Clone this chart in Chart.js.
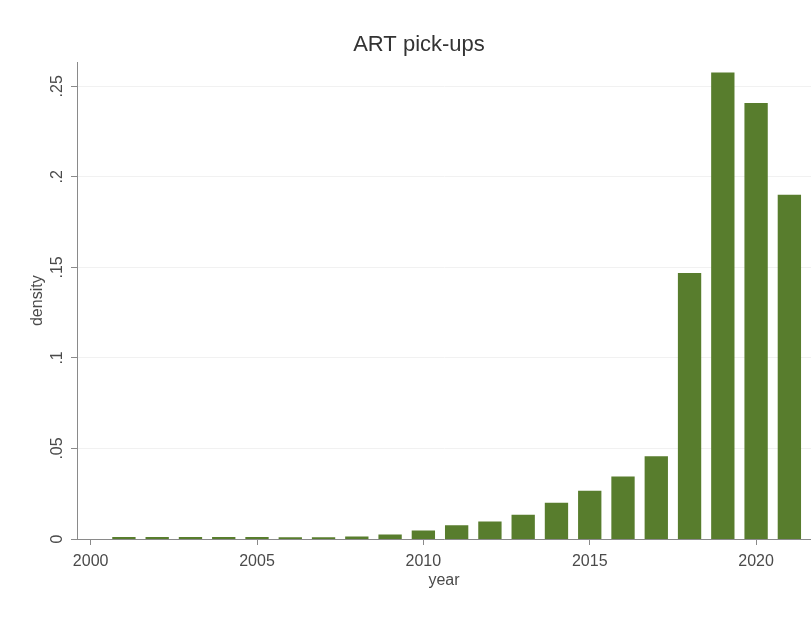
<!DOCTYPE html>
<html>
<head>
<meta charset="utf-8">
<title>ART pick-ups</title>
<script src="https://cdn.jsdelivr.net/npm/chart.js@4"></script>
<style>
    html, body { margin: 0; padding: 0; background: #ffffff; }
    #wrap { width: 811px; height: 619px; }
</style>
</head>
<body>
<div id="wrap"><canvas id="histChart" width="811" height="619"></canvas></div>
<script>
// histogram of ART pick-up year (density, bin width = 1 year)
const years = [2001, 2002, 2003, 2004, 2005, 2006, 2007, 2008, 2009, 2010, 2011,
               2012, 2013, 2014, 2015, 2016, 2017, 2018, 2019, 2020, 2021];
const density = [0.0008, 0.0008, 0.0008, 0.0008, 0.0008, 0.0007, 0.0007, 0.0011, 0.0022, 0.0044, 0.0072,
                 0.0094, 0.0131, 0.0197, 0.0263, 0.0342, 0.0453, 0.1466, 0.2573, 0.2404, 0.1898];

const xTicks = [2000, 2005, 2010, 2015, 2020];
const yTicks = [0, 0.05, 0.1, 0.15, 0.2, 0.25];
const yTickLabels = ['0', '.05', '.1', '.15', '.2', '.25'];

const FONT = "'Liberation Sans', Arial, sans-serif";
const AXIS_GREY = '#8a8a8a';
const TEXT_GREY = '#4a4a4a';

// y labels are drawn vertically (reading upwards), centred on each tick
const verticalYLabels = {
    id: 'verticalYLabels',
    afterDraw(chart) {
        const ctx = chart.ctx;
        const yScale = chart.scales.y;
        ctx.save();
        ctx.font = '16px ' + FONT;
        ctx.fillStyle = TEXT_GREY;
        ctx.textAlign = 'center';
        ctx.textBaseline = 'middle';
        yTicks.forEach((v, i) => {
            const py = yScale.getPixelForValue(v);
            ctx.save();
            ctx.translate(58, py);
            ctx.rotate(-Math.PI / 2);
            ctx.fillText(yTickLabels[i], 0, 0);
            ctx.restore();
        });
        ctx.restore();
    }
};

const ctx = document.getElementById('histChart').getContext('2d');
new Chart(ctx, {
    type: 'bar',
    data: {
        datasets: [{
            label: 'density',
            data: years.map((yr, i) => ({ x: yr, y: density[i] })),
            backgroundColor: '#587d2d',
            borderWidth: 0,
            inflateAmount: 0.6,
            barPercentage: 0.665,
            categoryPercentage: 1.0
        }]
    },
    options: {
        responsive: false,
        animation: false,
        devicePixelRatio: 1,
        layout: { padding: { left: 27, right: 0, top: 0, bottom: 0 } },
        plugins: {
            legend: { display: false },
            tooltip: { enabled: false },
            title: {
                display: true,
                text: 'ART pick-ups',
                color: '#333333',
                font: { family: FONT, size: 22, weight: 'normal' },
                padding: { top: 32, bottom: 4 }
            }
        },
        scales: {
            x: {
                type: 'linear',
                min: 1999.59,
                max: 2021.65,
                offset: false,
                afterBuildTicks: scale => { scale.ticks = xTicks.map(v => ({ value: v })); },
                afterFit: scale => { scale.height = 80; },
                grid: {
                    offset: false,
                    drawOnChartArea: false,
                    drawTicks: true,
                    tickLength: 6,
                    tickColor: AXIS_GREY
                },
                border: { display: true, color: AXIS_GREY, width: 1 },
                ticks: {
                    color: TEXT_GREY,
                    font: { family: FONT, size: 16 },
                    padding: 7,
                    maxRotation: 0,
                    callback: v => String(v)
                },
                title: {
                    display: true,
                    text: 'year',
                    color: TEXT_GREY,
                    font: { family: FONT, size: 16 },
                    padding: { top: 0, bottom: 29 }
                }
            },
            y: {
                min: 0,
                max: 0.2632,
                afterBuildTicks: scale => { scale.ticks = yTicks.map(v => ({ value: v })); },
                afterFit: scale => { scale.width = 50; },
                grid: {
                    color: '#f1f1f1',
                    drawTicks: true,
                    tickLength: 6,
                    tickColor: AXIS_GREY
                },
                border: { display: true, color: AXIS_GREY, width: 1 },
                ticks: { display: false },
                title: {
                    display: true,
                    text: 'density',
                    color: TEXT_GREY,
                    font: { family: FONT, size: 16 },
                    padding: { top: 1, bottom: 0 }
                }
            }
        }
    },
    plugins: [verticalYLabels]
});
</script>
</body>
</html>
